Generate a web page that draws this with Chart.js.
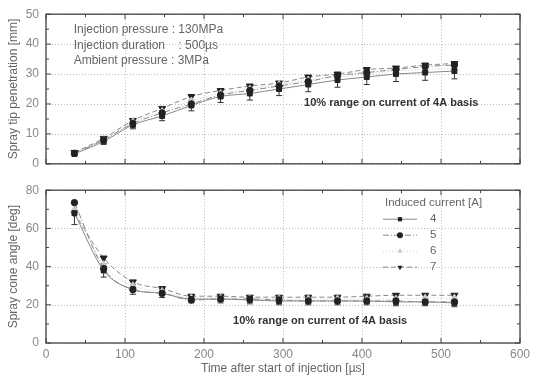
<!DOCTYPE html>
<html><head><meta charset="utf-8">
<script src="https://cdn.jsdelivr.net/npm/chart.js@4/dist/chart.umd.min.js"></script>
<style>
html,body{margin:0;padding:0;background:#fff;overflow:hidden}
#a{position:absolute;left:0;top:0;width:534px;height:178px}
#b{position:absolute;left:0;top:176px;width:534px;height:200px}
</style></head><body>
<div id="a"><canvas id="c1"></canvas></div>
<div id="b"><canvas id="c2"></canvas></div>
<script>
// ---- data ----
const times = [36, 73, 110, 147, 184, 221, 258, 295, 332, 369, 406, 443, 480, 517];
const currents = ['4', '5', '6', '7'];
const tip4 = [3.3, 7.5, 13.0, 16.0, 19.5, 22.5, 23.5, 25.0, 26.5, 28.0, 29.0, 30.0, 30.5, 31.0];
const tip5 = [3.5, 8.0, 13.5, 17.0, 20.0, 23.0, 24.5, 26.0, 27.5, 29.5, 30.5, 31.5, 32.5, 33.0];
const tip6 = [3.5, 8.0, 14.0, 17.5, 21.0, 23.5, 25.0, 26.5, 28.0, 29.0, 30.0, 31.0, 31.5, 32.0];
const tip7 = [3.8, 8.5, 14.5, 18.5, 22.5, 24.5, 26.0, 27.0, 29.0, 30.0, 31.5, 32.0, 33.0, 33.5];
const tipErr4 = [0.6, 1.0, 1.3, 1.6, 1.8, 2.0, 2.2, 2.2, 2.4, 2.4, 2.5, 2.5, 2.6, 2.6];
const cone4 = [68.0, 38.0, 28.0, 26.0, 23.0, 23.0, 22.5, 22.0, 22.0, 22.0, 22.0, 21.5, 21.5, 21.0];
const cone5 = [73.5, 39.0, 28.0, 26.0, 22.5, 23.0, 23.0, 22.5, 22.0, 22.0, 22.0, 22.0, 21.5, 21.5];
const cone6 = [70.0, 41.0, 30.0, 27.0, 23.5, 23.5, 23.5, 23.0, 23.0, 23.0, 23.0, 23.0, 23.5, 23.5];
const cone7 = [68.0, 44.5, 32.0, 28.5, 24.5, 24.5, 24.0, 24.0, 24.0, 24.0, 24.5, 25.0, 25.0, 25.0];
const coneErr4 = [6.0, 3.5, 2.5, 2.2, 2.0, 2.0, 2.0, 2.0, 2.0, 2.0, 2.0, 2.0, 2.0, 2.0];
const xTicks = [0, 100, 200, 300, 400, 500, 600];
const tipTicks = [0, 10, 20, 30, 40, 50];
const coneTicks = [0, 20, 40, 60, 80];
const notes = ['Injection pressure : 130MPa', 'Injection duration    : 500\u00b5s', 'Ambient pressure : 3MPa'];
const rangeNote = '10% range on current of 4A basis';

const FONT = '"Liberation Sans", Arial, sans-serif';
const styles = [
  {pointStyle: 'rect', rotation: 0, color: '#222', line: '#888', dash: [], radius: 3.5},
  {pointStyle: 'circle', rotation: 0, color: '#222', line: '#888', dash: [6, 2, 1, 2], radius: 3.2},
  {pointStyle: 'triangle', rotation: 0, color: '#ccc', line: '#ccc', dash: [1, 2], radius: 4},
  {pointStyle: 'triangle', rotation: 180, color: '#222', line: '#888', dash: [5, 3], radius: 4}
];

function makeDatasets(series) {
  return series.map((vals, i) => ({
    label: currents[i],
    data: times.map((t, k) => ({x: t, y: vals[k]})),
    borderColor: styles[i].line,
    borderWidth: 1,
    borderDash: styles[i].dash,
    backgroundColor: styles[i].color,
    pointBackgroundColor: styles[i].color,
    pointBorderColor: styles[i].color,
    pointStyle: styles[i].pointStyle,
    rotation: styles[i].rotation,
    pointRadius: styles[i].radius,
    cubicInterpolationMode: 'monotone',
    fill: false
  }));
}

const decor = {
  id: 'decor',
  beforeDatasetsDraw(chart, args, o) {
    const {ctx, chartArea: a, scales: {x, y}} = chart;
    ctx.save();
    // dotted grid
    ctx.strokeStyle = '#bbb'; ctx.lineWidth = 1; ctx.setLineDash([1, 2]);
    xTicks.forEach(v => {
      const px = Math.round(x.getPixelForValue(v)) + 0.5;
      ctx.beginPath(); ctx.moveTo(px, a.top); ctx.lineTo(px, a.bottom); ctx.stroke();
    });
    o.yTicks.forEach(v => {
      const py = Math.round(y.getPixelForValue(v)) + 0.5;
      ctx.beginPath(); ctx.moveTo(a.left, py); ctx.lineTo(a.right, py); ctx.stroke();
    });
    ctx.setLineDash([]);
    // error bars for 4A basis
    ctx.strokeStyle = '#333'; ctx.lineWidth = 1;
    o.err.forEach((e, k) => {
      const px = x.getPixelForValue(times[k]);
      const y1 = y.getPixelForValue(o.base[k] - e), y2 = y.getPixelForValue(o.base[k] + e);
      ctx.beginPath();
      ctx.moveTo(px, y1); ctx.lineTo(px, y2);
      ctx.moveTo(px - 3, y1); ctx.lineTo(px + 3, y1);
      ctx.moveTo(px - 3, y2); ctx.lineTo(px + 3, y2);
      ctx.stroke();
    });
    ctx.restore();
  },
  afterDraw(chart, args, o) {
    const {ctx, chartArea: a, scales: {x, y}} = chart;
    ctx.save();
    // frame
    ctx.strokeStyle = '#444'; ctx.lineWidth = 1.3;
    ctx.strokeRect(a.left, a.top, a.right - a.left, a.bottom - a.top);
    // inner ticks
    ctx.lineWidth = 1;
    for (let v = 0; v <= 600; v += 50) {
      const px = x.getPixelForValue(v), L = v % 100 === 0 ? 5 : 3;
      ctx.beginPath();
      ctx.moveTo(px, a.bottom); ctx.lineTo(px, a.bottom - L);
      ctx.moveTo(px, a.top); ctx.lineTo(px, a.top + L);
      ctx.stroke();
    }
    for (let v = y.min; v <= y.max; v += o.minorY) {
      const py = y.getPixelForValue(v), L = (v % o.majorY === 0) ? 5 : 3;
      ctx.beginPath();
      ctx.moveTo(a.left, py); ctx.lineTo(a.left + L, py);
      ctx.moveTo(a.right, py); ctx.lineTo(a.right - L, py);
      ctx.stroke();
    }
    // notes
    ctx.fillStyle = '#666'; ctx.textBaseline = 'middle'; ctx.textAlign = 'left';
    ctx.font = '12px ' + FONT;
    (o.notes || []).forEach((t, i) => ctx.fillText(t, x.getPixelForValue(35), y.getPixelForValue(44.8 - i * 5.2)));
    ctx.fillStyle = '#333'; ctx.font = 'bold 11px ' + FONT; ctx.textAlign = 'center';
    ctx.fillText(rangeNote, x.getPixelForValue(o.rangeAt[0]), y.getPixelForValue(o.rangeAt[1]));
    // legend
    if (o.legend) {
      const lx = a.right - 137, ty = a.top + 13;
      ctx.fillStyle = '#666'; ctx.font = '11.5px ' + FONT; ctx.textAlign = 'left';
      ctx.fillText('Induced current [A]', lx + 2, ty);
      chart.data.datasets.forEach((ds, i) => {
        const yy = ty + 16 * (i + 1);
        const st = styles[i];
        ctx.strokeStyle = st.line; ctx.setLineDash(st.dash); ctx.lineWidth = 1;
        ctx.beginPath(); ctx.moveTo(lx, yy); ctx.lineTo(lx + 34, yy); ctx.stroke();
        ctx.setLineDash([]);
        ctx.fillStyle = st.color; ctx.strokeStyle = st.color;
        Chart.helpers.drawPoint(ctx, {pointStyle: st.pointStyle, rotation: st.rotation, radius: 3}, lx + 17, yy);
        ctx.fillStyle = '#666';
        ctx.fillText(ds.label, lx + 47, yy);
      });
    }
    ctx.restore();
  }
};

function makeChart(id, series, yTicks, yMax, yTitle, showX, opts) {
  opts.yTicks = yTicks;
  return new Chart(document.getElementById(id), {
    type: 'line',
    data: {datasets: makeDatasets(series)},
    plugins: [decor],
    options: {
      animation: false, responsive: true, maintainAspectRatio: false,
      layout: {padding: {left: 0, right: 14, top: showX ? 14 : 12, bottom: 0}},
      plugins: {legend: {display: false}, tooltip: {enabled: false}, decor: opts},
      scales: {
        x: {
          type: 'linear', min: 0, max: 600,
          afterBuildTicks: s => { s.ticks = xTicks.map(v => ({value: v})); },
          grid: {display: true, color: 'rgba(0,0,0,0)', drawTicks: false, tickLength: 0},
          border: {display: false},
          ticks: {display: showX, color: '#888', font: {size: 12, family: FONT}, padding: 4, maxRotation: 0},
          title: {display: showX, text: 'Time after start of injection [\u00b5s]', color: '#666', font: {size: 12, family: FONT}, padding: {top: 0, bottom: 0}},
          afterFit: s => { s.height = showX ? 33 : 12; }
        },
        y: {
          type: 'linear', min: 0, max: yMax,
          afterBuildTicks: s => { s.ticks = yTicks.map(v => ({value: v})); },
          grid: {display: true, color: 'rgba(0,0,0,0)', drawTicks: false, tickLength: 0},
          border: {display: false},
          ticks: {color: '#888', font: {size: 12, family: FONT}, padding: 7},
          title: {display: true, text: yTitle, color: '#666', font: {size: 12, family: FONT}, padding: {top: 6, bottom: 0}},
          afterFit: s => { s.width = 46; }
        }
      }
    }
  });
}

makeChart('c1', [tip4, tip5, tip6, tip7], tipTicks, 50, 'Spray tip penetration [mm]', false,
  {err: tipErr4, base: tip4, minorY: 5, majorY: 10, notes: notes, rangeAt: [437, 20.2], legend: false});
makeChart('c2', [cone4, cone5, cone6, cone7], coneTicks, 80, 'Spray cone angle [deg]', true,
  {err: coneErr4, base: cone4, minorY: 10, majorY: 20, notes: [], rangeAt: [347, 11.5], legend: true});
</script>
</body></html>
